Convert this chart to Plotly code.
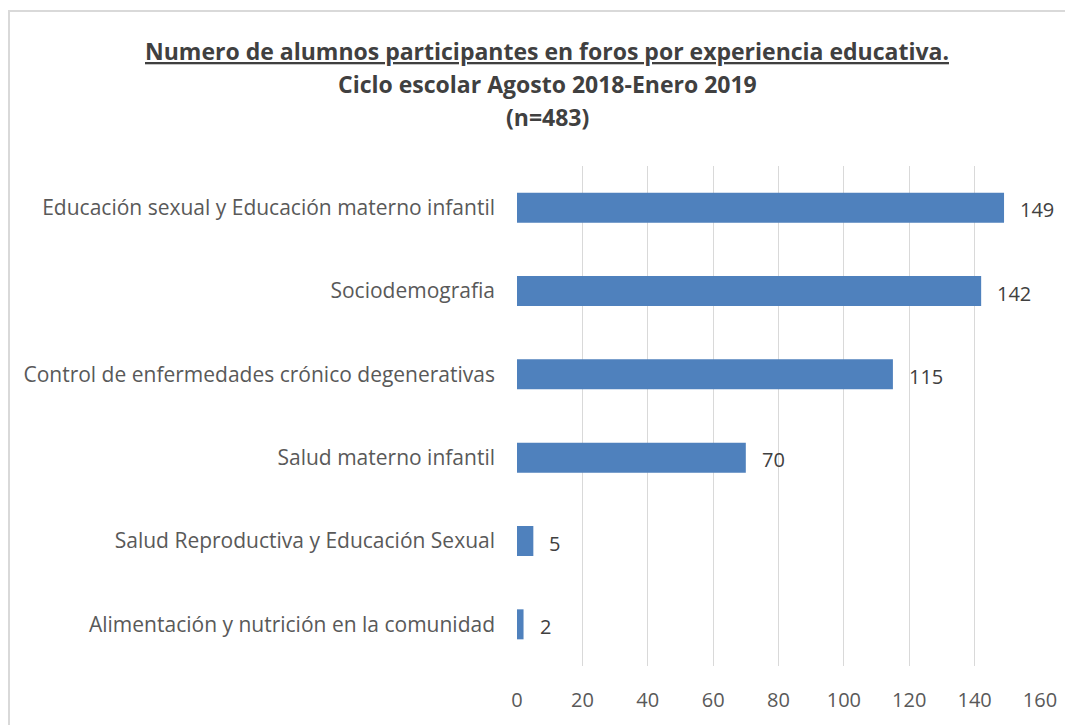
import plotly.graph_objects as go

categories = [
    "Alimentación y nutrición en la comunidad",
    "Salud Reproductiva y Educación Sexual",
    "Salud materno infantil",
    "Control de enfermedades crónico degenerativas",
    "Sociodemografia",
    "Educación sexual y Educación materno infantil",
]
values = [2, 5, 70, 115, 142, 149]
x_ticks = [0, 20, 40, 60, 80, 100, 120, 140, 160]
title_lines = [
    "<u>Numero de alumnos participantes en foros por experiencia educativa.</u>",
    "Ciclo escolar Agosto 2018-Enero 2019",
    "(n=483)",
]

OFF = 8  # page offset of the figure inside the browser window
W, H = 1073 - OFF, 725 - OFF
L, R, T, B = 517 - OFF, 1040 - OFF, 166 - OFF, 669 - OFF
FONT = "Open Sans, sans-serif"

def px(x):
    return (x - OFF - L) / (R - L)

def py(y):
    return (B - (y - OFF)) / (B - T)

fig = go.Figure()
fig.add_trace(go.Bar(
    x=values, y=categories, orientation="h",
    marker=dict(color="#4F81BD", line=dict(width=0)),
    width=0.36, hoverinfo="x+y",
))

annotations = []
for v, c in zip(values, categories):
    annotations.append(dict(
        x=v, y=c, xref="x", yref="y", text=str(v), showarrow=False,
        xanchor="left", yanchor="middle", xshift=14, yshift=-2,
        font=dict(family=FONT, size=20, color="#404040"),
    ))
for txt, yy in zip(title_lines, [50, 84, 117]):
    annotations.append(dict(
        x=px(547), y=py(yy), xref="paper", yref="paper", text="<b>" + txt + "</b>",
        showarrow=False, xanchor="center", yanchor="middle",
        font=dict(family=FONT, size=23, color="#404040"),
    ))

fig.update_layout(
    width=W, height=H,
    margin=dict(l=L, r=W - R, t=T, b=H - B, pad=0),
    paper_bgcolor="white", plot_bgcolor="white",
    showlegend=False,
    annotations=annotations,
    shapes=[dict(type="rect", xref="paper", yref="paper",
                 x0=px(9), x1=px(1090), y0=py(10), y1=py(760),
                 line=dict(color="#d9d9d9", width=2), fillcolor="rgba(0,0,0,0)", layer="below")],
    xaxis=dict(range=[0, 160], tickvals=x_ticks, showgrid=True, gridcolor="#d9d9d9", gridwidth=1,
               zeroline=False, showline=False, ticks="",
               tickfont=dict(family=FONT, size=20, color="#595959"), ticklabelstandoff=20),
    yaxis=dict(showgrid=False, zeroline=False, showline=False, ticks="",
               categoryorder="array", categoryarray=categories, range=[-0.5, 5.5],
               tickfont=dict(family=FONT, size=21, color="#595959"), ticklabelstandoff=21),
)
fig.write_html("out.html")
